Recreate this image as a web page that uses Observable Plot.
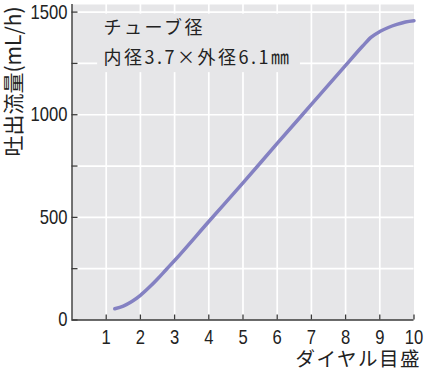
<!DOCTYPE html>
<html>
<head>
<meta charset="utf-8">
<script src="https://cdn.jsdelivr.net/npm/d3@7"></script>
<script src="https://cdn.jsdelivr.net/npm/@observablehq/plot@0.6"></script>
<style>
  html, body { margin: 0; padding: 0; background: #fff; }
</style>
</head>
<body>
<div id="chart"></div>
<script>
// Data
const dial = [1.25, 1.5, 1.75, 2, 2.25, 2.5, 2.75, 3, 4, 5, 6, 7, 8, 8.5, 8.75, 9, 9.25, 9.5, 9.75, 10];
const flow = [55, 68, 90, 120, 158, 200, 245, 290, 480, 668, 860, 1050, 1240, 1335, 1378, 1405, 1425, 1440, 1452, 1458];
const xTicks = [1, 2, 3, 4, 5, 6, 7, 8, 9, 10];
const yTicks = [0, 250, 500, 750, 1000, 1250, 1500];
const yLabeled = [0, 500, 1000, 1500];
const noteLines = ["チューブ径", "内径3.7×外径6.1㎜"];
const xTitle = "ダイヤル目盛";
const yTitle = "吐出流量(mL/h)";
const noteBox = {x1: 0.75, x2: 6.68, y1: 1205, y2: 1490};

const data = dial.map((d, i) => ({dial: d, flow: flow[i]}));
const gray = "#e6e6e8";
const ink = "#222222";
const latin = "'Liberation Sans', Arial, sans-serif";
const jp = "'Noto Sans CJK JP', 'Liberation Sans', sans-serif";

const chart = Plot.plot({
  width: 426,
  height: 371,
  marginLeft: 71.5,
  marginRight: 12.5,
  marginTop: 4,
  marginBottom: 51.5,
  x: {domain: [0, 10]},
  y: {domain: [0, 1537]},
  style: {background: "#fff", color: ink},
  marks: [
    Plot.frame({fill: gray, stroke: null}),
    Plot.gridX(xTicks.slice(0, -1), {stroke: "#fff", strokeOpacity: 1, strokeWidth: 1.7}),
    Plot.gridY(yTicks.slice(1), {stroke: "#fff", strokeOpacity: 1, strokeWidth: 1.7}),
    Plot.rect([noteBox], {x1: "x1", x2: "x2", y1: "y1", y2: "y2", fill: gray}),
    Plot.text(noteLines, {
      text: d => d, frameAnchor: "top-left", textAnchor: "start",
      dx: 31.5, fontSize: 18, fontFamily: jp, fill: ink,
      lineAnchor: "middle"
    }),
    Plot.line(data, {x: "dial", y: "flow", stroke: "#8481c2", strokeWidth: 3.5, curve: "monotone-x"}),
    Plot.ruleX([0], {stroke: "#3a3a3a", strokeWidth: 1.4}),
    Plot.ruleY([0], {stroke: "#3a3a3a", strokeWidth: 1.4}),
    Plot.axisX({
      ticks: xTicks, tickSize: -5, tickPadding: 15, stroke: "#3a3a3a", strokeWidth: 1.3,
      fontSize: 20, fontFamily: latin, label: null, fill: ink
    }),
    Plot.axisY({
      ticks: yTicks, tickSize: -6, tickPadding: 10.5, stroke: "#3a3a3a", strokeWidth: 1.3,
      tickFormat: d => yLabeled.includes(d) ? String(d) : "",
      fontSize: 20, fontFamily: latin, label: null, fill: ink
    }),
    Plot.text([xTitle], {
      text: d => d, frameAnchor: "bottom-right", textAnchor: "end",
      dx: 7, dy: 39.5, fontSize: 19.5, fontFamily: jp, fill: ink, lineAnchor: "middle"
    }),
    Plot.text([yTitle], {
      text: d => d, frameAnchor: "top-left", textAnchor: "middle", rotate: -90,
      dx: -57.5, dy: 77, fontSize: 21, fontFamily: jp, fill: ink, lineAnchor: "middle"
    })
  ]
});

document.getElementById("chart").appendChild(chart);

// position the two annotation lines and add letter spacing for the Japanese texts
const textGroups = chart.querySelectorAll("g[aria-label='text']");
textGroups[0].querySelectorAll("text").forEach((t, i) => {
  const tr = t.getAttribute("transform") || "";
  t.setAttribute("transform", tr + ` translate(0,${23.5 + i * 30})`);
  t.setAttribute("letter-spacing", "2.5");
});
textGroups[1].querySelectorAll("text").forEach(t => t.setAttribute("letter-spacing", "1.5"));

// condensed look of the tick numbers, as in the reference
chart.querySelectorAll("g[aria-label='x-axis tick label'] text, g[aria-label='y-axis tick label'] text").forEach(t => {
  const tr = t.getAttribute("transform") || "";
  t.setAttribute("transform", tr + " scale(0.83,1)");
});
</script>
</body>
</html>
